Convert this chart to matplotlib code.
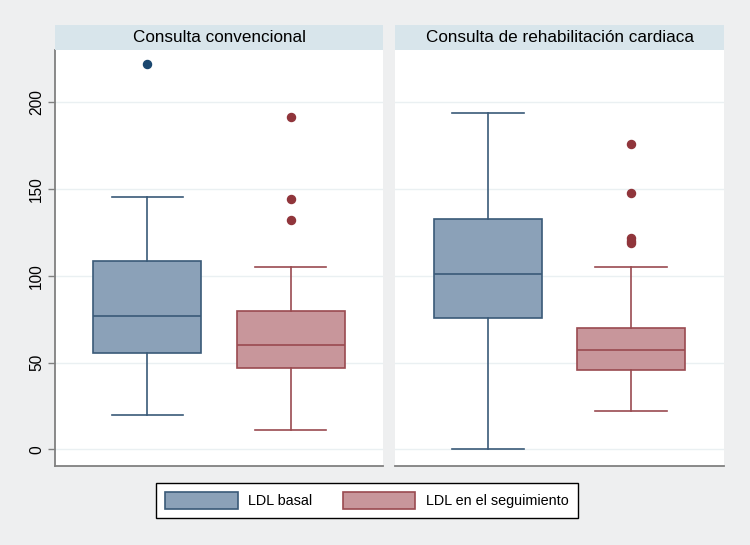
import matplotlib
matplotlib.use("Agg")
import matplotlib.pyplot as plt
from matplotlib.patches import Patch

plt.rcParams['font.family'] = ['Liberation Sans', 'DejaVu Sans']

panels = ["Consulta convencional", "Consulta de rehabilitación cardiaca"]
series = ["LDL basal", "LDL en el seguimiento"]

# per panel, per series: whislo, q1, med, q3, whishi
basal_whislo = [20, 0]
basal_q1 = [55.3, 75.4]
basal_med = [77, 101]
basal_q3 = [108.3, 132.7]
basal_whishi = [145.3, 193.7]
basal_fliers = [[222], []]

seg_whislo = [11, 22]
seg_q1 = [47, 46]
seg_med = [60, 57]
seg_q3 = [79.5, 70]
seg_whishi = [105.2, 105]
seg_fliers = [[191.4, 144.2, 132.3], [175.7, 147.5, 121.5, 120, 118.7]]

yticks = [0, 50, 100, 150, 200]

bg = "#EEEFF0"
strip_c = "#D8E5EB"
grid_c = "#EAF0F2"
axis_c = "#808080"
fill_c = ["#8BA1B8", "#C8969B"]
edge_c = ["#3A5A78", "#9A4A50"]
dot_c = ["#1A476F", "#90353B"]

W, H = 750, 545
fig = plt.figure(figsize=(W / 100, H / 100), dpi=100, facecolor=bg)

def fx(px):
    return px / W

def fy(py):
    return 1 - py / H

panel_x = [(55, 383), (395, 724)]
top_px, bot_px = 49.5, 465.7
strip_top = 24.5

for i, (x0, x1) in enumerate(panel_x):
    ax = fig.add_axes([fx(x0), fy(bot_px), fx(x1 - x0), (bot_px - top_px) / H])
    ax.set_facecolor("white")
    ax.set_ylim(-9.4, 230.3)
    ax.set_xlim(0.355, 2.645)
    for yv in yticks:
        ax.axhline(yv, color=grid_c, lw=1.0, zorder=0)
    stats = [
        dict(whislo=basal_whislo[i], q1=basal_q1[i], med=basal_med[i],
             q3=basal_q3[i], whishi=basal_whishi[i], fliers=basal_fliers[i]),
        dict(whislo=seg_whislo[i], q1=seg_q1[i], med=seg_med[i],
             q3=seg_q3[i], whishi=seg_whishi[i], fliers=seg_fliers[i]),
    ]
    for j, st in enumerate(stats):
        ax.bxp([st], positions=[j + 1], widths=0.754, capwidths=0.5,
               patch_artist=True, showfliers=True,
               boxprops=dict(facecolor=fill_c[j], edgecolor=edge_c[j], lw=1.2),
               medianprops=dict(color=edge_c[j], lw=1.2),
               whiskerprops=dict(color=edge_c[j], lw=1.2),
               capprops=dict(color=edge_c[j], lw=1.2),
               flierprops=dict(marker='o', markerfacecolor=dot_c[j],
                               markeredgecolor=dot_c[j], markersize=5.8, lw=0))
    ax.set_xticks([])
    for s in ["top", "right"]:
        ax.spines[s].set_visible(False)
    ax.spines["bottom"].set_color(axis_c)
    ax.spines["bottom"].set_linewidth(1.3)
    if i == 0:
        ax.spines["left"].set_color(axis_c)
        ax.spines["left"].set_linewidth(1.3)
        ax.set_yticks(yticks)
        ax.set_yticklabels([str(v) for v in yticks], rotation=90, va='center', fontsize=11.2)
        ax.tick_params(axis='y', length=5, width=1, color=axis_c, pad=3)
    else:
        ax.spines["left"].set_visible(False)
        ax.set_yticks([])
    # title strip
    sax = fig.add_axes([fx(x0), fy(top_px), fx(x1 - x0), (top_px - strip_top) / H])
    sax.set_facecolor(strip_c)
    sax.set_xticks([]); sax.set_yticks([])
    for s in sax.spines.values():
        s.set_visible(False)
    sax.text(0.5, 0.5, panels[i], ha='center', va='center', fontsize=12.3,
             transform=sax.transAxes)

handles = [Patch(facecolor=fill_c[k], edgecolor=edge_c[k], lw=1.2, label=series[k]) for k in range(2)]
leg = fig.legend(handles=handles, loc='center left', ncol=2,
                 bbox_to_anchor=(fx(156), fy(500.5)), borderaxespad=0, fontsize=10.4,
                 frameon=True, fancybox=False, edgecolor='black', framealpha=1,
                 handlelength=5.0, handleheight=1.35, handletextpad=0.75,
                 columnspacing=2.1, borderpad=0.65)
leg.get_frame().set_linewidth(1.0)

fig.savefig("out.png", dpi=100, facecolor=bg)
